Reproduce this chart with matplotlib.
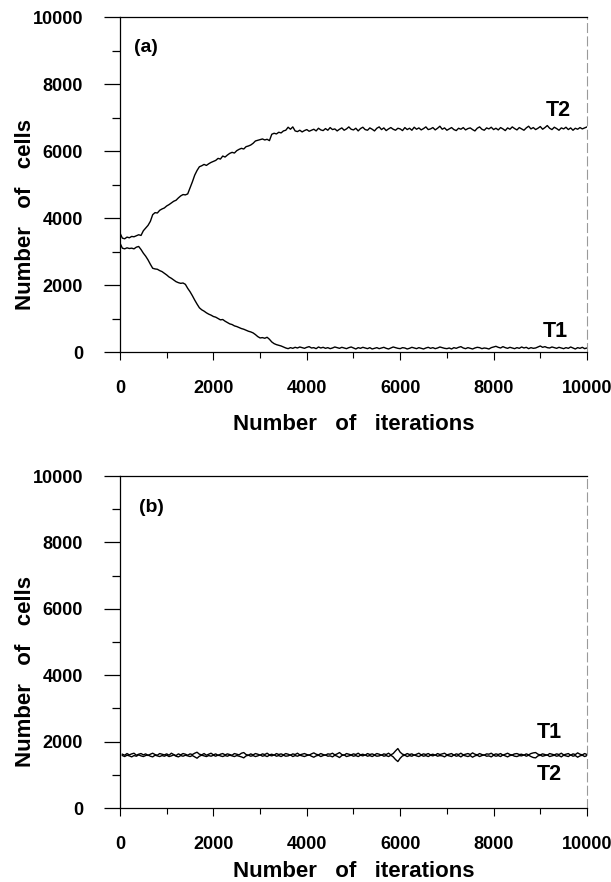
import numpy as np
import matplotlib.pyplot as plt
from matplotlib.ticker import MultipleLocator

# iterations sampled every 50 steps
iters = np.arange(0, 10001, 50)

# panel (a)
a_t2 = [3550, 3400, 3380, 3430, 3410, 3450, 3440, 3470, 3500, 3480,
        3620, 3700, 3780, 3900, 4100, 4160, 4150, 4230, 4270, 4300,
        4360, 4400, 4450, 4500, 4530, 4600, 4660, 4700, 4690, 4720,
        4900, 5080, 5280, 5420, 5530, 5560, 5600, 5570, 5620, 5660,
        5690, 5720, 5780, 5760, 5850, 5820, 5880, 5930, 5960, 5940,
        6010, 6050, 6080, 6060, 6130, 6150, 6180, 6230, 6300, 6320,
        6340, 6360, 6330, 6350, 6310, 6500, 6530, 6510, 6560, 6540,
        6600, 6620, 6710, 6650, 6720, 6600, 6580, 6620, 6570, 6610,
        6640, 6590, 6620, 6650, 6600, 6680, 6630, 6610, 6670, 6620,
        6700, 6640, 6660, 6600, 6650, 6690, 6620, 6660, 6720, 6650,
        6630, 6680, 6600, 6670, 6710, 6640, 6620, 6690, 6650, 6600,
        6680, 6720, 6640, 6690, 6610, 6660, 6700, 6650, 6620, 6680,
        6660, 6610, 6700, 6640, 6680, 6620, 6710, 6650, 6690, 6630,
        6670, 6720, 6640, 6660, 6700, 6630, 6680, 6740, 6650, 6690,
        6620, 6660, 6700, 6640, 6610, 6680, 6650, 6700, 6630, 6670,
        6690, 6640, 6600, 6680, 6720, 6650, 6620, 6690, 6660, 6710,
        6640, 6680, 6630, 6700, 6660, 6610, 6690, 6650, 6720, 6670,
        6630, 6700, 6660, 6620, 6690, 6740, 6660, 6700, 6640, 6680,
        6730, 6650, 6700, 6760, 6680, 6640, 6710, 6670, 6620, 6690,
        6660, 6710, 6640, 6690, 6620, 6680, 6650, 6700, 6660, 6690,
        6720]
a_t1 = [3250, 3100, 3080, 3110, 3090, 3100, 3080, 3130, 3150, 3060,
        2950, 2860, 2750, 2620, 2500, 2480, 2470, 2430, 2400, 2350,
        2300, 2240, 2200, 2150, 2100, 2070, 2050, 2060, 2020, 1900,
        1800, 1680, 1550, 1430, 1320, 1260, 1220, 1170, 1130, 1100,
        1060, 1040, 1000, 960, 970, 920, 880, 840, 820, 780,
        760, 730, 700, 680, 650, 620, 600, 570, 520, 460,
        420, 430, 410, 440, 380, 300, 250, 220, 200, 180,
        150, 120, 100, 130, 110, 140, 120, 150, 130, 110,
        140, 160, 120, 130, 100, 150, 120, 140, 110, 130,
        100, 120, 150, 130, 110, 140, 120, 100, 130, 150,
        120, 90, 130, 110, 140, 120, 100, 130, 90, 110,
        130, 100, 120, 140, 110, 90, 120, 150, 130, 110,
        100, 130, 120, 90, 110, 140, 120, 100, 130, 110,
        90, 120, 140, 110, 130, 100, 120, 150, 130, 110,
        100, 120, 90, 130, 110, 140, 160, 120, 100, 130,
        110, 90, 120, 140, 130, 100, 120, 110, 90, 130,
        150, 170, 140, 120, 160, 130, 110, 140, 120, 100,
        130, 110, 150, 120, 140, 100, 130, 110, 120, 150,
        180, 140, 160, 130, 120, 150, 130, 110, 140, 120,
        100, 130, 110, 150, 120, 90, 130, 110, 140, 100,
        120]

# panel (b)
b_t1 = [1600, 1620, 1590, 1640, 1600, 1630, 1650, 1590, 1620, 1640,
        1600, 1630, 1580, 1620, 1650, 1610, 1590, 1640, 1620, 1600,
        1630, 1590, 1650, 1610, 1580, 1630, 1600, 1640, 1620, 1590,
        1630, 1610, 1650, 1680, 1620, 1600, 1640, 1590, 1620, 1650,
        1600, 1630, 1580, 1620, 1640, 1600, 1630, 1610, 1590, 1640,
        1620, 1600, 1650, 1670, 1610, 1590, 1630, 1600, 1640, 1620,
        1590, 1630, 1610, 1650, 1600, 1620, 1590, 1640, 1610, 1630,
        1600, 1640, 1620, 1590, 1630, 1610, 1650, 1600, 1620, 1640,
        1610, 1590, 1630, 1660, 1620, 1600, 1640, 1610, 1590, 1630,
        1620, 1650, 1600, 1630, 1670, 1610, 1590, 1640, 1620, 1600,
        1630, 1610, 1650, 1600, 1620, 1590, 1640, 1610, 1630, 1600,
        1640, 1620, 1590, 1630, 1610, 1650, 1600, 1640, 1720, 1790,
        1680, 1620, 1600, 1640, 1610, 1630, 1590, 1620, 1650, 1600,
        1630, 1610, 1640, 1600, 1620, 1590, 1640, 1610, 1630, 1650,
        1600, 1620, 1640, 1590, 1630, 1610, 1650, 1600, 1620, 1640,
        1610, 1660, 1620, 1600, 1640, 1610, 1590, 1630, 1620, 1650,
        1600, 1630, 1610, 1640, 1590, 1620, 1650, 1610, 1600, 1630,
        1640, 1610, 1620, 1590, 1630, 1600, 1640, 1660, 1670, 1620,
        1600, 1630, 1610, 1590, 1640, 1620, 1600, 1630, 1610, 1650,
        1600, 1620, 1640, 1590, 1630, 1610, 1660, 1620, 1600, 1640,
        1610]
b_t2 = [1560, 1580, 1550, 1590, 1570, 1540, 1580, 1560, 1600, 1570,
        1550, 1580, 1600, 1560, 1540, 1590, 1570, 1550, 1580, 1560,
        1590, 1550, 1570, 1600, 1560, 1540, 1580, 1560, 1590, 1570,
        1550, 1580, 1540, 1500, 1560, 1590, 1570, 1550, 1580, 1560,
        1590, 1560, 1600, 1570, 1550, 1580, 1560, 1590, 1570, 1550,
        1580, 1560, 1540, 1510, 1570, 1590, 1560, 1580, 1550, 1570,
        1600, 1560, 1580, 1550, 1590, 1570, 1600, 1560, 1580, 1550,
        1590, 1560, 1570, 1600, 1550, 1580, 1560, 1590, 1570, 1550,
        1580, 1600, 1560, 1530, 1570, 1590, 1550, 1580, 1600, 1560,
        1570, 1540, 1590, 1560, 1520, 1580, 1600, 1550, 1570, 1590,
        1560, 1580, 1550, 1590, 1570, 1600, 1560, 1580, 1550, 1590,
        1560, 1570, 1600, 1560, 1580, 1550, 1590, 1540, 1460, 1400,
        1500, 1570, 1590, 1550, 1580, 1560, 1600, 1570, 1550, 1590,
        1560, 1580, 1550, 1590, 1570, 1600, 1560, 1580, 1570, 1540,
        1590, 1570, 1550, 1600, 1560, 1580, 1540, 1590, 1570, 1550,
        1580, 1530, 1570, 1590, 1550, 1580, 1600, 1560, 1570, 1540,
        1590, 1560, 1580, 1550, 1600, 1570, 1540, 1580, 1590, 1560,
        1550, 1580, 1570, 1600, 1560, 1590, 1550, 1520, 1510, 1570,
        1590, 1560, 1580, 1600, 1550, 1570, 1590, 1560, 1580, 1540,
        1590, 1570, 1550, 1600, 1560, 1580, 1530, 1570, 1590, 1550,
        1580]

plt.rcParams['font.family'] = ['Liberation Sans', 'DejaVu Sans']
plt.rcParams['font.weight'] = 'bold'

fig = plt.figure(figsize=(6.11, 8.82), dpi=100)
ax1 = fig.add_axes([0.1964, 0.6009, 0.7643, 0.3798])
ax2 = fig.add_axes([0.1964, 0.0839, 0.7643, 0.3764])


def style(ax, xlab_y):
    ax.set_xlim(0, 10000)
    ax.set_ylim(0, 10000)
    ax.xaxis.set_major_locator(MultipleLocator(2000))
    ax.xaxis.set_minor_locator(MultipleLocator(1000))
    ax.yaxis.set_major_locator(MultipleLocator(2000))
    ax.yaxis.set_minor_locator(MultipleLocator(1000))
    ax.tick_params(axis='y', which='major', direction='out', length=11.5, width=0.9, pad=15, labelsize=13)
    ax.tick_params(axis='y', which='minor', direction='out', length=5.8, width=0.9)
    ax.tick_params(axis='x', which='major', direction='out', length=6, width=0.8, pad=14, labelsize=13)
    ax.tick_params(axis='x', which='minor', direction='out', length=4, width=0.8)
    for lab in ax.get_xticklabels() + ax.get_yticklabels():
        lab.set_fontweight('bold')
    for s in ['left', 'top', 'bottom']:
        ax.spines[s].set_linewidth(0.9)
    ax.spines['right'].set_color('#9a9a9a')
    ax.spines['right'].set_linewidth(0.8)
    ax.spines['right'].set_linestyle((0, (8, 4)))
    ax.set_xlabel("Number   of   iterations", fontsize=16, fontweight='bold')
    ax.set_ylabel("Number   of   cells", fontsize=16, fontweight='bold')
    ax.xaxis.set_label_coords(0.5, xlab_y)
    ax.yaxis.set_label_coords(-0.18, 0.41)


ax1.plot(iters, a_t2, color='black', lw=1.0)
ax1.plot(iters, a_t1, color='black', lw=1.0)
style(ax1, -0.185)
ax1.text(300, 9100, "(a)", fontsize=14, fontweight='bold', va='center')
ax1.text(9380, 7220, "T2", fontsize=15.5, fontweight='bold', ha='center', va='center')
ax1.text(9320, 600, "T1", fontsize=15.5, fontweight='bold', ha='center', va='center')

ax2.plot(iters[1:], b_t1[1:], color='black', lw=1.0)
ax2.plot(iters[1:], b_t2[1:], color='black', lw=1.0)
style(ax2, -0.16)
ax2.text(400, 9040, "(b)", fontsize=14, fontweight='bold', va='center')
ax2.text(9190, 2280, "T1", fontsize=15.5, fontweight='bold', ha='center', va='center')
ax2.text(9190, 1000, "T2", fontsize=15.5, fontweight='bold', ha='center', va='center')

fig.savefig("out.png", dpi=100)
